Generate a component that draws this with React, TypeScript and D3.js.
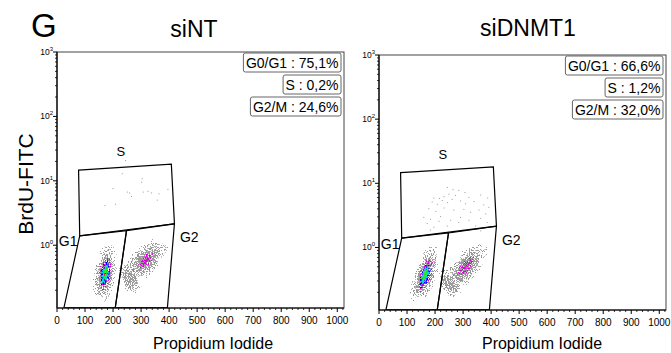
import React from "react";
import * as d3 from "d3";

// ---------- data ----------
const panelTitles = ["siNT", "siDNMT1"];
const phaseNames = ["G0/G1", "S", "G2/M"];
const siNTPercents = ["75,1%", "0,2%", "24,6%"];
const siDNMT1Percents = ["66,6%", "1,2%", "32,0%"];

const xTickValues = [0, 100, 200, 300, 400, 500, 600, 700, 800, 900, 1000];
const yDecadeValues = [1, 10, 100, 1000];
const yDecadeExponents = ["0", "1", "2", "3"];

// gates in data units [PI, BrdU]
const gateS: [number, number][] = [[77, 14.7], [408, 18.1], [419, 2.15], [81, 1.4]];
const gateG1: [number, number][] = [[81, 1.4], [248, 1.68], [208, 0.108], [25, 0.108]];
const gateG2: [number, number][] = [[248, 1.68], [419, 2.15], [394, 0.108], [208, 0.108]];
const gateLabelNames = ["S", "G1", "G2"];
const gateLabelX = [228, 40, 472];
const gateLabelY = [29, 1.15, 1.32];

// density clusters: centre (PI, BrdU), half-spread (PI units, decades), tilt (deg),
// highest density level reached, relative size of the coloured core
const siNTClusters = [
  { x: 171, y: 0.36, rx: 42, rd: 0.5, tilt: 10, peak: 5, core: 0.95 },
  { x: 316, y: 0.58, rx: 52, rd: 0.45, tilt: 45, peak: 1, core: 0.62 },
  { x: 262, y: 0.3, rx: 60, rd: 0.16, tilt: 62, peak: 0, core: 1 },
];
const siDNMT1Clusters = [
  { x: 164, y: 0.37, rx: 42, rd: 0.5, tilt: 18, peak: 4, core: 0.95 },
  { x: 310, y: 0.5, rx: 50, rd: 0.47, tilt: 40, peak: 1, core: 0.72 },
  { x: 254, y: 0.27, rx: 58, rd: 0.16, tilt: 55, peak: 0, core: 1 },
];

// sparse S-phase events
const siNTSDots: [number, number][] = [
  [231, 13.1], [302, 11.0], [300, 9.7], [198, 7.7], [249, 6.8], [264, 5.8], [306, 6.8], [323, 7.0],
  [335, 6.6], [362, 6.4], [394, 7.5], [356, 5.1], [169, 4.2], [207, 4.4], [257, 6.6], [243, 21],
];
const siDNMT1SDots: [number, number][] = [
  [242, 8.8], [262, 8.1], [283, 7.9], [305, 7.3], [248, 6.9], [194, 6.0], [214, 5.9], [230, 6.3],
  [271, 6.6], [319, 6.1], [361, 6.7], [386, 6.0], [188, 5.2], [206, 4.8], [224, 5.5], [243, 5.1],
  [259, 5.7], [289, 5.4], [307, 4.9], [337, 5.3], [372, 4.7], [390, 4.3], [176, 4.1], [201, 3.7],
  [230, 4.2], [265, 3.9], [301, 4.0], [325, 3.6], [355, 3.9], [379, 3.4], [158, 3.0], [182, 2.8],
  [218, 3.1], [254, 2.7], [289, 3.0], [319, 2.7], [361, 2.9], [170, 2.4], [194, 2.1], [242, 2.2],
  [283, 2.5], [343, 2.2], [384, 2.5], [182, 1.9], [230, 1.75], [301, 1.9], [361, 1.85], [212, 2.6],
];

// ---------- styling ----------
const FONT = "'Liberation Sans', Arial, Helvetica, sans-serif";
const levelColors = ["#9c9c9c", "#e020e0", "#3a3aff", "#1ed6e6", "#2ee23a", "#e6281e"];
const levelFactors = [1, 0.6, 0.45, 0.33, 0.22, 0.08];
const levelStops = [
  [0.8, 0.64, 0.45],
  [0.74, 0.6, 0.45],
  [0.9, 0.7, 0.5],
  [0.95, 0.75, 0.55],
  [0.95, 0.8, 0.6],
  [1, 0.85, 0.65],
];

const layouts = [
  { x0: 57, x1: 344, y0: 52, y1: 308, titleX: 194, titleY: 36.5, xlabelX: 213 },
  { x0: 379, x1: 666, y0: 55, y1: 310, titleX: 528, titleY: 36, xlabelX: 542 },
];

let measureCtx: CanvasRenderingContext2D | null = null;
function textWidth(t: string, size: number) {
  if (!measureCtx) measureCtx = document.createElement("canvas").getContext("2d");
  if (!measureCtx) return t.length * size * 0.55;
  measureCtx.font = `${size}px ${FONT}`;
  return measureCtx.measureText(t).width;
}

type Cluster = { x: number; y: number; rx: number; rd: number; tilt: number; peak: number; core: number };

function Panel({ idx, percents, clusters, dots }: { idx: number; percents: string[]; clusters: Cluster[]; dots: [number, number][] }) {
  const L = layouts[idx];
  const x = d3.scaleLinear().domain([0, 1024]).range([L.x0, L.x1]);
  const y = d3.scaleLog().domain([0.106, 1000]).range([L.y1, L.y0]);
  const line = d3.line<[number, number]>().x((d) => x(d[0])).y((d) => y(d[1])).curve(d3.curveLinearClosed);

  const minorX = d3.range(0, 1021, 20).filter((v) => v % 100 !== 0);
  const minorY: number[] = [];
  for (let e = -1; e < 3; e++) for (let k = 2; k <= 9; k++) {
    const v = k * Math.pow(10, e);
    if (v >= 0.106 && v <= 1000) minorY.push(v);
  }

  return (
    <g>
      <text x={L.titleX} y={L.titleY} textAnchor="middle" fontSize={23} fontFamily={FONT}>{panelTitles[idx]}</text>
      {/* density clouds: gray layers first, then coloured cores */}
      {d3.range(0, 6).map((lv) =>
        clusters.filter((c) => c.peak >= lv).map((c, ci) => {
          const cx = x(c.x), cy = y(c.y);
          const f = levelFactors[lv] * (lv > 0 ? c.core : 1);
          const rx = (x(c.x + c.rx) - cx) * f;
          const ry = (cy - y(c.y * Math.pow(10, c.rd))) * f;
          return (
            <g key={`c${lv}-${ci}`} filter={`url(#speck${lv})`}>
              <ellipse cx={0} cy={0} rx={rx} ry={ry} fill={`url(#grad${lv})`}
                transform={`translate(${cx},${cy}) rotate(${c.tilt})`} />
            </g>
          );
        })
      )}
      {dots.map((d, i) => (
        <rect key={`d${i}`} x={x(d[0])} y={y(d[1])} width={1} height={1} fill="#9a9a9a" />
      ))}
      {/* gates */}
      {[gateS, gateG1, gateG2].map((g, i) => (
        <path key={`g${i}`} d={line(g) || ""} fill="none" stroke="#000" strokeWidth={1.2} strokeLinejoin="miter" />
      ))}
      {gateLabelNames.map((n, i) => (
        <text key={n} x={x(gateLabelX[i])} y={y(gateLabelY[i]) + 5} textAnchor="middle" fontSize={n === "S" ? 13 : 14} fontFamily={FONT}>{n}</text>
      ))}
      {/* frame */}
      <rect x={L.x0} y={L.y0} width={L.x1 - L.x0} height={L.y1 - L.y0} fill="none" stroke="#444" strokeWidth={1} />
      <line x1={L.x0} x2={L.x0} y1={L.y0} y2={L.y1} stroke="#000" strokeWidth={1.2} />
      <line x1={L.x0} x2={L.x1} y1={L.y1} y2={L.y1} stroke="#000" strokeWidth={1.2} />
      {/* x ticks */}
      {xTickValues.map((v) => (
        <g key={`xt${v}`}>
          <line x1={x(v)} x2={x(v)} y1={L.y1} y2={L.y1 + 4} stroke="#000" strokeWidth={1} />
          <text x={x(v)} y={L.y1 + 15.5} textAnchor="middle" fontSize={10} fontFamily={FONT}>{v}</text>
        </g>
      ))}
      {minorX.map((v) => (
        <line key={`xm${v}`} x1={x(v)} x2={x(v)} y1={L.y1} y2={L.y1 + 2} stroke="#000" strokeWidth={0.8} />
      ))}
      {/* y ticks */}
      {yDecadeValues.map((v, i) => (
        <g key={`yt${v}`}>
          <line x1={L.x0 - 4} x2={L.x0} y1={y(v)} y2={y(v)} stroke="#000" strokeWidth={1} />
          <text x={L.x0 - 4} y={y(v) + 3} textAnchor="end" fontSize={8.5} fontFamily={FONT}>
            10<tspan dy={-4} fontSize={6}>{yDecadeExponents[i]}</tspan>
          </text>
        </g>
      ))}
      {minorY.map((v) => (
        <line key={`ym${v}`} x1={L.x0 - 2} x2={L.x0} y1={y(v)} y2={y(v)} stroke="#000" strokeWidth={0.8} />
      ))}
      {/* stat boxes */}
      {phaseNames.map((p, i) => {
        const t = `${p} : ${percents[i]}`;
        const w = textWidth(t, 14) + 5;
        const right = L.x1 - 3;
        const top = L.y0 + 1 + i * 22;
        return (
          <g key={`s${i}`}>
            <rect x={right - w} y={top} width={w} height={19} rx={2} fill="#fff" stroke="#666" strokeWidth={1} />
            <text x={right - 2.5} y={top + 14.5} textAnchor="end" fontSize={14} fontFamily={FONT}>{t}</text>
          </g>
        );
      })}
      <text x={L.xlabelX} y={349} textAnchor="middle" fontSize={16} fontFamily={FONT}>Propidium Iodide</text>
    </g>
  );
}

export default function App() {
  return (
    <svg width={671} height={353} style={{ position: "fixed", left: 0, top: 0, background: "#fff" }}>
      <defs>
        {levelColors.map((c, i) => (
          <radialGradient key={`gr${i}`} id={`grad${i}`}>
            <stop offset="0" stopColor={c} stopOpacity={levelStops[i][0]} />
            <stop offset="0.55" stopColor={c} stopOpacity={levelStops[i][1]} />
            <stop offset="1" stopColor={c} stopOpacity={levelStops[i][2]} />
          </radialGradient>
        ))}
        {levelColors.map((c, i) => (
          <filter key={`f${i}`} id={`speck${i}`} x="-10%" y="-10%" width="120%" height="120%">
            <feTurbulence type="fractalNoise" baseFrequency="0.95" numOctaves={1} seed={3 + i * 7} result="t" />
            <feColorMatrix in="t" type="matrix" values="0 0 0 0 0  0 0 0 0 0  0 0 0 0 0  1 0 0 0 0" result="n" />
            <feComposite in="SourceAlpha" in2="n" operator="arithmetic" k1={0} k2={1} k3={1} k4={-1.12} result="m" />
            <feComposite in="SourceGraphic" in2="m" operator="in" result="c2" />
            <feColorMatrix in="c2" type="matrix" values="1 0 0 0 0  0 1 0 0 0  0 0 1 0 0  0 0 0 60 0" />
          </filter>
        ))}
      </defs>
      <rect width={671} height={353} fill="#fff" />
      <text x={31} y={37} fontSize={33} fontFamily={FONT}>G</text>
      <text transform="translate(33,184) rotate(-90)" textAnchor="middle" fontSize={21} fontFamily={FONT}>BrdU-FITC</text>
      <Panel idx={0} percents={siNTPercents} clusters={siNTClusters} dots={siNTSDots} />
      <Panel idx={1} percents={siDNMT1Percents} clusters={siDNMT1Clusters} dots={siDNMT1SDots} />
    </svg>
  );
}
